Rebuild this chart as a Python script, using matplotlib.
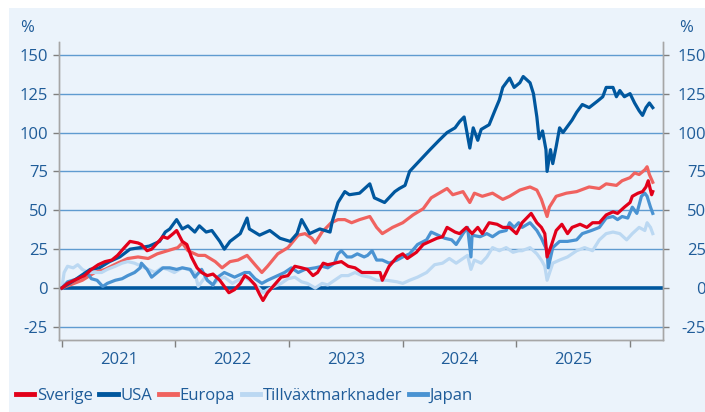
import matplotlib
matplotlib.use('Agg')
import matplotlib.pyplot as plt
from matplotlib.patches import Rectangle

plt.rcParams['font.family'] = ['Open Sans', 'DejaVu Sans']
plt.rcParams['axes.unicode_minus'] = False

#----- data (index, % change since start of 2021), time in decimal years
years = [2021, 2022, 2023, 2024, 2025]
year_edges = [2021, 2022, 2023, 2024, 2025, 2026]
yticks = [-25, 0, 25, 50, 75, 100, 125, 150]

t_sverige = [2021.00, 2021.05, 2021.14, 2021.20, 2021.26, 2021.32, 2021.38, 2021.44, 2021.49, 2021.55,
             2021.60, 2021.67, 2021.70, 2021.75, 2021.79, 2021.84, 2021.89, 2021.93, 2021.98, 2022.01,
             2022.06, 2022.10, 2022.14, 2022.19, 2022.23, 2022.28, 2022.33, 2022.39, 2022.43, 2022.47,
             2022.52, 2022.57, 2022.61, 2022.65, 2022.70, 2022.74, 2022.77, 2022.81, 2022.87, 2022.93,
             2022.99, 2023.05, 2023.11, 2023.16, 2023.21, 2023.25, 2023.30, 2023.34, 2023.40, 2023.46,
             2023.52, 2023.58, 2023.64, 2023.71, 2023.80, 2023.82, 2023.88, 2023.95, 2024.00, 2024.04,
             2024.12, 2024.18, 2024.24, 2024.30, 2024.35, 2024.39, 2024.46, 2024.50, 2024.56, 2024.61,
             2024.66, 2024.70, 2024.76, 2024.83, 2024.88, 2024.94, 2025.00, 2025.05, 2025.13, 2025.18,
             2025.22, 2025.25, 2025.27, 2025.31, 2025.35, 2025.40, 2025.45, 2025.49, 2025.56, 2025.62,
             2025.67, 2025.73, 2025.79, 2025.85, 2025.89, 2025.95, 2026.00, 2026.02, 2026.07, 2026.11,
             2026.14, 2026.16, 2026.19, 2026.20]
sverige = [0, 3, 6, 8, 12, 15, 17, 18, 21, 26,
           30, 29, 28, 24, 25, 29, 33, 32, 35, 37,
           30, 28, 20, 13, 10, 8, 9, 5, 1, -3,
           -1, 3, 8, 6, 2, -4, -8, -3, 2, 7,
           8, 14, 13, 12, 8, 10, 16, 15, 16, 17,
           14, 13, 10, 10, 10, 5, 14, 20, 22, 19,
           23, 28, 30, 32, 33, 39, 36, 35, 39, 35,
           39, 35, 42, 41, 39, 39, 35, 42, 48, 42,
           39, 35, 20, 28, 37, 41, 35, 39, 41, 39,
           42, 42, 47, 49, 48, 52, 55, 59, 61, 62,
           65, 69, 60, 62]

t_usa = [2021.00, 2021.11, 2021.25, 2021.33, 2021.42, 2021.51, 2021.60, 2021.69, 2021.77, 2021.86,
         2021.91, 2021.95, 2022.01, 2022.06, 2022.11, 2022.17, 2022.21, 2022.27, 2022.32, 2022.39,
         2022.43, 2022.48, 2022.57, 2022.63, 2022.65, 2022.74, 2022.83, 2022.92, 2023.01, 2023.07,
         2023.11, 2023.18, 2023.27, 2023.36, 2023.38, 2023.43, 2023.49, 2023.53, 2023.62, 2023.71,
         2023.75, 2023.84, 2023.93, 2023.97, 2024.02, 2024.06, 2024.15, 2024.24, 2024.32, 2024.39,
         2024.46, 2024.50, 2024.54, 2024.59, 2024.62, 2024.66, 2024.69, 2024.76, 2024.81, 2024.85,
         2024.88, 2024.94, 2024.98, 2025.03, 2025.06, 2025.12, 2025.15, 2025.18, 2025.20, 2025.23,
         2025.26, 2025.27, 2025.30, 2025.32, 2025.35, 2025.38, 2025.41, 2025.44, 2025.49, 2025.53,
         2025.58, 2025.64, 2025.71, 2025.76, 2025.79, 2025.85, 2025.88, 2025.91, 2025.95, 2026.00,
         2026.04, 2026.08, 2026.11, 2026.14, 2026.17, 2026.20]
usa = [0, 5, 12, 13, 17, 20, 25, 26, 27, 30,
       36, 38, 44, 38, 40, 36, 40, 36, 37, 30,
       25, 30, 35, 45, 38, 34, 37, 32, 30, 35,
       44, 35, 38, 36, 43, 55, 62, 60, 61, 67,
       58, 55, 62, 64, 66, 75, 82, 89, 95, 100,
       103, 107, 110, 90, 103, 95, 102, 105, 114, 121,
       129, 135, 129, 132, 136, 132, 125, 110, 96, 101,
       89, 75, 89, 80, 91, 103, 100, 103, 108, 113,
       118, 116, 120, 123, 129, 129, 123, 127, 123, 125,
       119, 114, 111, 116, 119, 116]

t_europa = [2021.00, 2021.18, 2021.29, 2021.38, 2021.49, 2021.58, 2021.67, 2021.76, 2021.84, 2021.93,
            2022.02, 2022.06, 2022.11, 2022.20, 2022.26, 2022.35, 2022.41, 2022.48, 2022.55, 2022.63,
            2022.70, 2022.76, 2022.81, 2022.90, 2022.99, 2023.08, 2023.14, 2023.20, 2023.23, 2023.29,
            2023.37, 2023.43, 2023.49, 2023.55, 2023.62, 2023.71, 2023.77, 2023.82, 2023.91, 2024.00,
            2024.09, 2024.18, 2024.25, 2024.32, 2024.39, 2024.44, 2024.53, 2024.59, 2024.63, 2024.70,
            2024.79, 2024.88, 2024.94, 2025.03, 2025.12, 2025.18, 2025.22, 2025.27, 2025.29, 2025.35,
            2025.44, 2025.53, 2025.64, 2025.73, 2025.79, 2025.88, 2025.93, 2026.00, 2026.04, 2026.08,
            2026.13, 2026.15, 2026.17, 2026.20]
europa = [0, 5, 10, 12, 16, 19, 20, 19, 22, 24,
          26, 29, 24, 21, 21, 17, 13, 17, 18, 21,
          15, 10, 14, 22, 26, 34, 35, 32, 29, 36,
          42, 44, 44, 42, 44, 46, 39, 35, 39, 42,
          47, 51, 58, 61, 64, 60, 62, 55, 61, 59,
          61, 57, 59, 63, 65, 63, 57, 46, 52, 59,
          61, 62, 65, 64, 67, 66, 69, 71, 74, 73,
          76, 78, 73, 68]

t_tillvaxt = [2021.00, 2021.02, 2021.05, 2021.10, 2021.14, 2021.18, 2021.23, 2021.29, 2021.35, 2021.40,
              2021.47, 2021.53, 2021.58, 2021.64, 2021.70, 2021.76, 2021.82, 2021.88, 2021.93, 2021.99,
              2022.06, 2022.11, 2022.17, 2022.20, 2022.23, 2022.26, 2022.28, 2022.33, 2022.37, 2022.43,
              2022.50, 2022.55, 2022.61, 2022.67, 2022.72, 2022.77, 2022.81, 2022.87, 2022.93, 2022.99,
              2023.05, 2023.11, 2023.16, 2023.23, 2023.29, 2023.34, 2023.40, 2023.46, 2023.52, 2023.58,
              2023.64, 2023.71, 2023.77, 2023.86, 2023.95, 2024.00, 2024.06, 2024.13, 2024.21, 2024.28,
              2024.35, 2024.41, 2024.47, 2024.53, 2024.57, 2024.60, 2024.63, 2024.69, 2024.74, 2024.79,
              2024.85, 2024.91, 2024.97, 2025.02, 2025.05, 2025.12, 2025.18, 2025.22, 2025.25, 2025.27,
              2025.32, 2025.38, 2025.45, 2025.53, 2025.60, 2025.67, 2025.73, 2025.79, 2025.85, 2025.91,
              2025.97, 2026.02, 2026.08, 2026.13, 2026.15, 2026.18, 2026.20]
tillvaxt = [0, 10, 14, 13, 15, 12, 10, 10, 10, 12,
            14, 16, 17, 16, 14, 12, 10, 13, 12, 10,
            13, 12, 10, 1, 4, 7, 5, 2, 5, 7,
            3, 5, 7, 4, 1, -3, -1, 1, 3, 6,
            7, 4, 3, 0, 3, 2, 5, 8, 8, 10,
            8, 7, 5, 5, 4, 3, 5, 7, 10, 15,
            16, 19, 16, 19, 21, 12, 18, 16, 20, 26,
            24, 26, 23, 24, 24, 26, 22, 18, 14, 5,
            16, 18, 20, 24, 26, 24, 31, 35, 36, 35,
            31, 35, 39, 37, 42, 39, 35]

t_japan = [2021.00, 2021.05, 2021.14, 2021.22, 2021.26, 2021.31, 2021.36, 2021.40, 2021.47, 2021.53,
           2021.58, 2021.64, 2021.69, 2021.70, 2021.75, 2021.79, 2021.84, 2021.89, 2021.95, 2022.01,
           2022.06, 2022.13, 2022.17, 2022.23, 2022.28, 2022.33, 2022.37, 2022.43, 2022.52, 2022.61,
           2022.65, 2022.70, 2022.76, 2022.81, 2022.87, 2022.96, 2023.02, 2023.08, 2023.14, 2023.23,
           2023.29, 2023.34, 2023.40, 2023.43, 2023.46, 2023.51, 2023.55, 2023.60, 2023.66, 2023.69,
           2023.73, 2023.77, 2023.82, 2023.88, 2023.95, 2024.00, 2024.06, 2024.13, 2024.21, 2024.25,
           2024.31, 2024.37, 2024.43, 2024.47, 2024.53, 2024.57, 2024.60, 2024.61, 2024.68, 2024.74,
           2024.79, 2024.85, 2024.91, 2024.94, 2024.98, 2025.02, 2025.05, 2025.12, 2025.18, 2025.22,
           2025.27, 2025.28, 2025.32, 2025.38, 2025.45, 2025.53, 2025.58, 2025.66, 2025.73, 2025.79,
           2025.85, 2025.89, 2025.93, 2025.98, 2026.02, 2026.06, 2026.10, 2026.13, 2026.15, 2026.18,
           2026.20]
japan = [0, 4, 6, 10, 6, 5, 1, 3, 5, 6,
         8, 10, 13, 16, 12, 7, 10, 13, 13, 12,
         13, 12, 7, 12, 5, 2, 7, 10, 7, 10,
         10, 6, 3, 5, 7, 10, 13, 10, 12, 13,
         14, 13, 16, 22, 24, 20, 20, 22, 20, 21,
         24, 18, 18, 16, 18, 20, 22, 28, 31, 36,
         34, 32, 31, 28, 35, 39, 20, 34, 33, 35,
         33, 36, 37, 42, 39, 42, 39, 42, 37, 32,
         24, 13, 26, 30, 30, 31, 35, 37, 39, 45,
         46, 44, 46, 45, 52, 48, 59, 61, 59, 52,
         48]

#----- colours
c_text = '#1F5C99'
c_bg = '#EBF3FB'
c_sverige = '#E2001A'
c_usa = '#00579E'
c_europa = '#F0625F'
c_tillvaxt = '#BBD8F2'
c_japan = '#4A93D2'
c_grid = '#5F9BD0'
c_axis = '#A6A6A6'

#----- figure
fig = plt.figure(figsize=(7.05, 4.12), dpi=100)
fig.patches.append(Rectangle((9/705, 0), 1 - 9/705, 1 - 8/412, transform=fig.transFigure,
                             facecolor=c_bg, edgecolor='none', zorder=-10))

ax = fig.add_axes([59/705, 72/412, 604/705, 298/412])
ax.set_facecolor('none')

for v in yticks:
    if v != 0:
        ax.axhline(v, color=c_grid, lw=1.0, zorder=1)
ax.axhline(0, color=c_usa, lw=2.6, zorder=2)

lw = 2.3
l_eu, = ax.plot(t_europa, europa, color=c_europa, lw=lw, label='Europa', zorder=3)
l_em, = ax.plot(t_tillvaxt, tillvaxt, color=c_tillvaxt, lw=lw, label='Tillväxtmarknader', zorder=3)
l_jp, = ax.plot(t_japan, japan, color=c_japan, lw=lw, label='Japan', zorder=4)
l_us, = ax.plot(t_usa, usa, color=c_usa, lw=lw, label='USA', zorder=5)
l_se, = ax.plot(t_sverige, sverige, color=c_sverige, lw=lw, label='Sverige', zorder=6)

ax.set_xlim(2020.975, 2026.29)
ax.set_ylim(-33.4, 158.2)

# x axis: ticks at year boundaries, labels in the middle of each year
ax.set_xticks(year_edges)
ax.set_xticklabels([])
ax.set_xticks([y + 0.5 for y in years], minor=True)
ax.set_xticklabels([str(y) for y in years], minor=True)
ax.tick_params(axis='x', which='major', direction='out', length=5, width=1, color='#7F7F7F')
ax.tick_params(axis='x', which='minor', length=0, pad=9, labelsize=12, labelcolor=c_text)

ax.set_yticks(yticks)
ax.tick_params(axis='y', direction='out', length=4, width=1, color='#7F7F7F',
               labelsize=12, labelcolor=c_text, pad=4)

ax2 = ax.twinx()
ax2.set_ylim(ax.get_ylim())
ax2.set_yticks(yticks)
ax2.tick_params(axis='y', direction='out', length=4, width=1, color='#7F7F7F',
                labelsize=12, labelcolor=c_text, pad=27)
for lab in ax2.get_yticklabels():
    lab.set_horizontalalignment('right')

for a in (ax, ax2):
    a.spines['top'].set_visible(False)
    for s in ('left', 'right', 'bottom'):
        a.spines[s].set_color(c_axis)
        a.spines[s].set_linewidth(1.0)

fig.text(27/705, 1 - 28/412, '%', color=c_text, fontsize=12, ha='center', va='center')
fig.text(686/705, 1 - 28/412, '%', color=c_text, fontsize=12, ha='center', va='center')

leg = fig.legend([l_se, l_us, l_eu, l_em, l_jp],
                 ['Sverige', 'USA', 'Europa', 'Tillväxtmarknader', 'Japan'],
                 loc='center left', bbox_to_anchor=(16/705, 1 - 396/412), ncol=5,
                 frameon=False, fontsize=12, handlelength=1.1, handletextpad=0.15,
                 columnspacing=0.4, borderpad=0, borderaxespad=0)
for line in leg.get_lines():
    line.set_linewidth(3.5)
for txt in leg.get_texts():
    txt.set_color(c_text)

fig.savefig('out.png', dpi=100)
